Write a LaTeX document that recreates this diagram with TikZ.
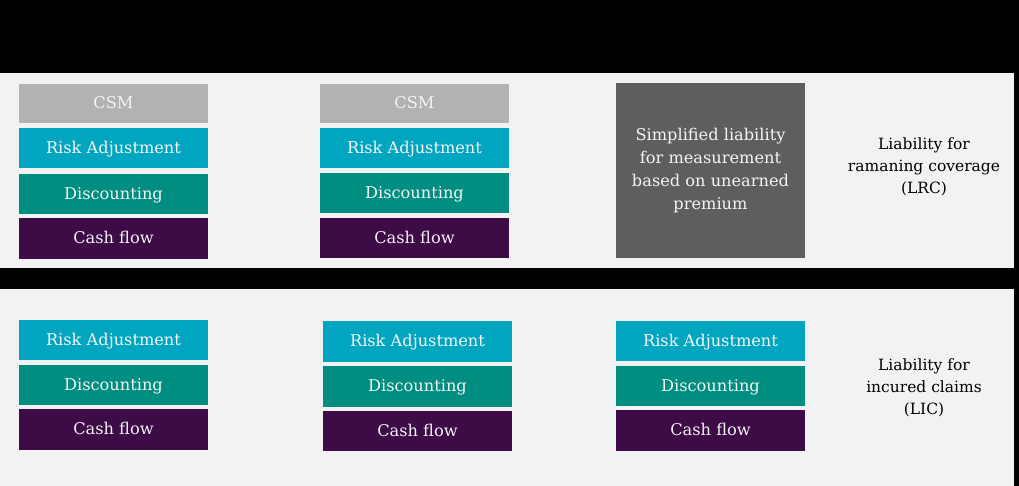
\documentclass[tikz,border=0pt]{standalone}
\usepackage{tikz}
\usepackage{fontspec}
\setmainfont{DejaVu Serif}
\definecolor{bgg}{HTML}{F2F2F2}
\definecolor{csmc}{HTML}{B2B2B2}
\definecolor{rac}{HTML}{00A6C0}
\definecolor{discc}{HTML}{008E80}
\definecolor{cashc}{HTML}{3D0B46}
\definecolor{simc}{HTML}{5E5E5E}
\definecolor{txtw}{HTML}{F4F4F4}
\tikzset{
  blk/.style={inner sep=0pt, minimum width=189pt, minimum height=40pt, text=txtw,
    font=\fontsize{16.2}{20}\selectfont, align=center},
  rowbox/.style={blk, text height=10.5pt, text depth=0pt},
  csmbox/.style={rowbox, fill=csmc},
  rabox/.style={rowbox, fill=rac},
  discbox/.style={rowbox, fill=discc},
  cashbox/.style={rowbox, fill=cashc},
  simbox/.style={blk, fill=simc, minimum height=175pt, font=\fontsize{16.2}{23}\selectfont},
  lbl/.style={align=center, font=\fontsize{15.5}{22}\selectfont, text=black}
}
\begin{document}
\begin{tikzpicture}[x=1pt,y=-1pt]
\useasboundingbox (0,0) rectangle (1019,486);
\fill[black] (0,0) rectangle (1019,486);
\fill[bgg] (0,73) rectangle (1014,268);
\fill[bgg] (0,289) rectangle (1014,486);
% top band
\node[csmbox, minimum height=39pt] (c1) at (113.5,103.5) {CSM};
\node[rabox] (r1) at (113.5,148.5) {Risk Adjustment};
\node[discbox] (d1) at (113.5,194) {Discounting};
\node[cashbox, minimum height=41pt] (f1) at (113.5,238.5) {Cash flow};
\node[csmbox, minimum height=39pt] (c2) at (414.5,103.5) {CSM};
\node[rabox] (r2) at (414.5,148) {Risk Adjustment};
\node[discbox] (d2) at (414.5,193) {Discounting};
\node[cashbox] (f2) at (414.5,238) {Cash flow};
\node[simbox] (s3) at (710.5,170.5) {Simplified liability\\for measurement\\based on unearned\\premium};
\node[lbl] (lrc) at (924,167) {Liability for\\ramaning coverage\\(LRC)};
% bottom band
\node[rabox] (r4) at (113.5,340) {Risk Adjustment};
\node[discbox] (d4) at (113.5,385) {Discounting};
\node[cashbox, minimum height=41pt] (f4) at (113.5,429.5) {Cash flow};
\node[rabox, minimum height=41pt] (r5) at (417.5,341.5) {Risk Adjustment};
\node[discbox, minimum height=41pt] (d5) at (417.5,386.5) {Discounting};
\node[cashbox] (f5) at (417.5,431) {Cash flow};
\node[rabox] (r6) at (710.5,341) {Risk Adjustment};
\node[discbox] (d6) at (710.5,386) {Discounting};
\node[cashbox, minimum height=41pt] (f6) at (710.5,430.5) {Cash flow};
\node[lbl] (lic) at (924,388) {Liability for\\incured claims\\(LIC)};
\end{tikzpicture}
\end{document}
